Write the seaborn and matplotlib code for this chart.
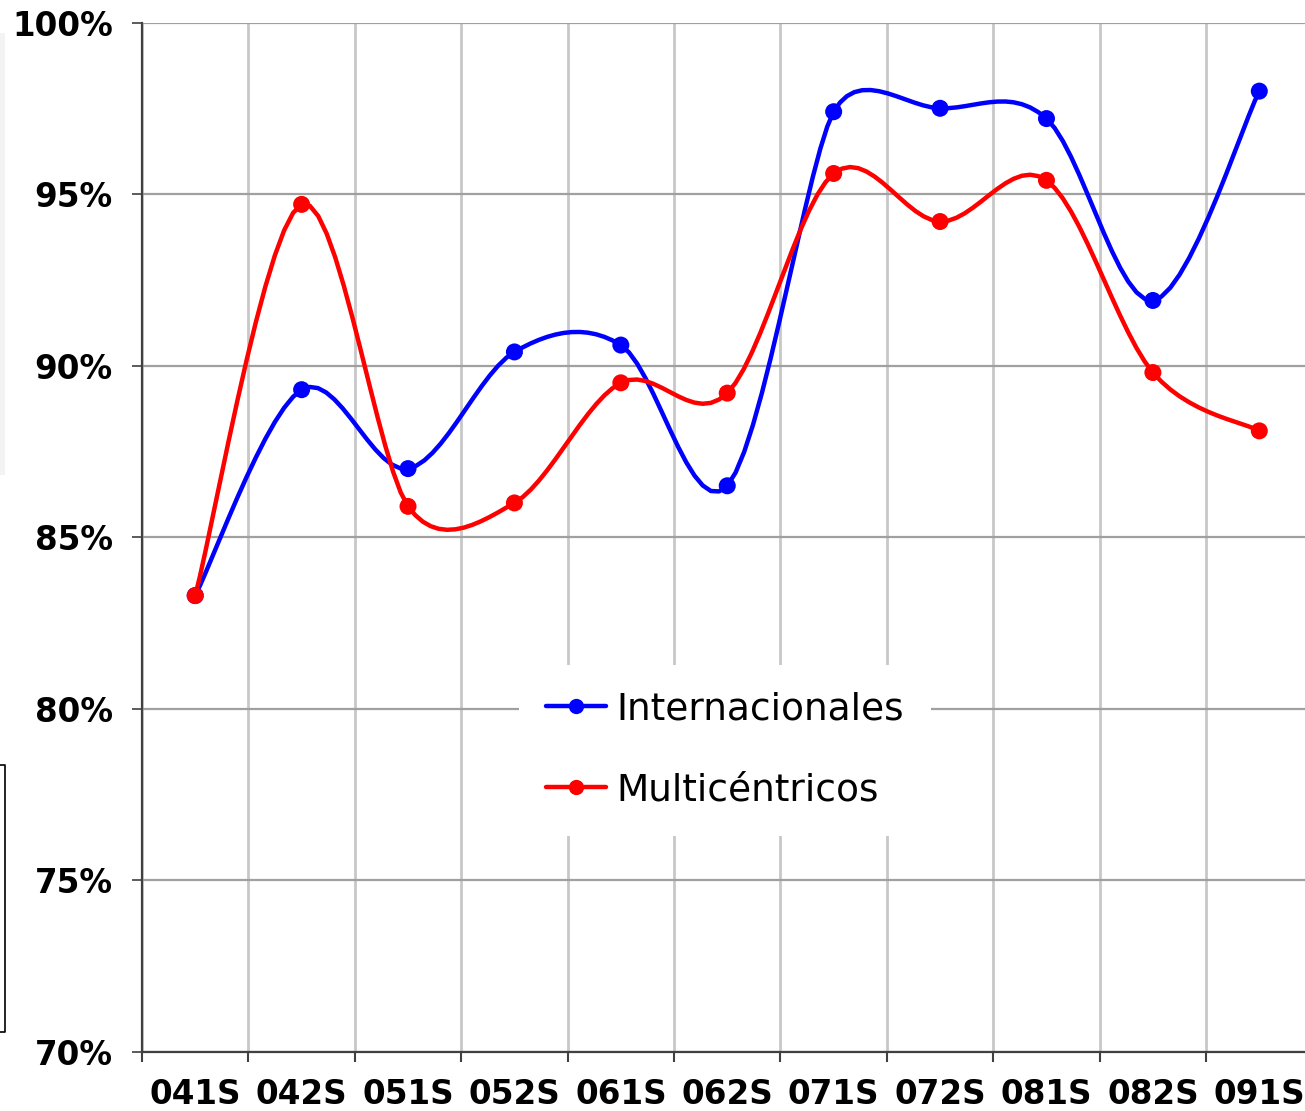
import numpy as np
import pandas as pd
import matplotlib
matplotlib.use("Agg")
import matplotlib.pyplot as plt
from matplotlib.lines import Line2D
from matplotlib.patches import Rectangle
import seaborn as sns

# ---- data -------------------------------------------------------------
periods = ["041S", "042S", "051S", "052S", "061S", "062S",
           "071S", "072S", "081S", "082S", "091S"]
internacionales = [83.3, 89.3, 87.0, 90.4, 90.6, 86.5, 97.4, 97.5, 97.2, 91.9, 98.0]
multicentricos = [83.3, 94.7, 85.9, 86.0, 89.5, 89.2, 95.6, 94.2, 95.4, 89.8, 88.1]
y_ticks = [70, 75, 80, 85, 90, 95, 100]
series_names = ["Internacionales", "Multicéntricos"]
series_colors = ["#0000ff", "#ff0000"]

# ---- figure -----------------------------------------------------------
sns.set_theme(style="white")
plt.rcParams["font.family"] = ["DejaVu Sans"]
plt.rcParams["text.color"] = "black"

W, H = 1305, 1111
fig = plt.figure(figsize=(W / 100, H / 100), dpi=100)
fig.patch.set_facecolor("white")

left_px, right_px, top_px, bottom_px = 142, 1312.5, 22.5, 1052
ax = fig.add_axes([left_px / W, (H - bottom_px) / H,
                   (right_px - left_px) / W, (bottom_px - top_px) / H])
ax.set_facecolor("white")

n = len(periods)
xs = np.arange(n)
ax.set_xlim(-0.5, n - 0.5)
ax.set_ylim(70, 100)


def smooth_curve(x, y):
    """Bezier smoothing of a polyline, computed in display space."""
    pts = ax.transData.transform(np.column_stack([x, y]))
    m = len(pts)
    c_in = np.zeros_like(pts)
    c_out = np.zeros_like(pts)
    for i in range(m):
        p0 = pts[max(i - 1, 0)]
        p1 = pts[i]
        p2 = pts[min(i + 1, m - 1)]
        f = 1 / 6
        if 0 < i < m - 1:
            d01 = np.linalg.norm(p1 - p0)
            d12 = np.linalg.norm(p2 - p1)
            d02 = np.linalg.norm(p2 - p0)
            if d02 * f > d01 / 2 or d02 * f > d12 / 2:
                f = min(d01, d12) / 2 / d02
        arm = (p2 - p0) * f
        c_in[i] = p1 - arm
        c_out[i] = p1 + arm
    t = np.linspace(0, 1, 14)[:, None]
    segs = []
    for i in range(m - 1):
        a, b, c, d = pts[i], c_out[i], c_in[i + 1], pts[i + 1]
        seg = ((1 - t) ** 3) * a + 3 * ((1 - t) ** 2) * t * b \
            + 3 * (1 - t) * t ** 2 * c + t ** 3 * d
        segs.append(seg if i == 0 else seg[1:])
    curve = ax.transData.inverted().transform(np.vstack(segs))
    return curve[:, 0], curve[:, 1]


for name, vals, col in zip(series_names, [internacionales, multicentricos], series_colors):
    cx, cy = smooth_curve(xs, np.array(vals, dtype=float))
    sns.lineplot(x=cx, y=cy, sort=False, estimator=None, color=col,
                 linewidth=3.2, ax=ax, legend=False, zorder=3)
    sns.scatterplot(x=xs, y=vals, color=col, s=150, edgecolor="none",
                    ax=ax, legend=False, zorder=4)

# ---- axes styling -----------------------------------------------------
ax.set_yticks(y_ticks)
ax.set_yticklabels([f"{v}%" for v in y_ticks], fontsize=23.5, fontweight="bold",
                   color="black")
ax.set_xticks(xs)
ax.set_xticklabels(periods, fontsize=23.5, fontweight="bold", color="black")
ax.set_xticks(np.arange(n + 1) - 0.5, minor=True)

ax.tick_params(axis="y", which="major", direction="out", length=7.5, width=1.2,
               color="#404040", pad=13.5, left=True)
ax.tick_params(axis="x", which="major", length=0, pad=18.5, bottom=True)
ax.tick_params(axis="x", which="minor", direction="out", length=7.5, width=1.5,
               color="#404040", bottom=True)

ax.grid(False)
ax.yaxis.grid(True, which="major", color="#a0a0a0", linewidth=1.6, zorder=0)
ax.xaxis.grid(True, which="minor", color="#c8c8c8", linewidth=2.0, zorder=0)
ax.set_axisbelow(True)

for side in ["top", "right"]:
    ax.spines[side].set_visible(False)
for side in ["left", "bottom"]:
    ax.spines[side].set_color("#404040")
    ax.spines[side].set_linewidth(1.6)
ax.set_xlabel("")
ax.set_ylabel("")

# ---- legend -----------------------------------------------------------
handles = [Line2D([0], [0], color=c, linewidth=3.2, marker="o", markersize=11,
                  markeredgewidth=0) for c in series_colors]
leg = ax.legend(handles, series_names, loc="center",
                bbox_to_anchor=(725 / W, 1 - 750 / H),
                bbox_transform=fig.transFigure, fontsize=27, frameon=True,
                facecolor="white", edgecolor="none", framealpha=1,
                handlelength=1.6, handletextpad=0.3, labelspacing=1.2,
                borderpad=0.72, fancybox=False, labelcolor="black")
leg.set_zorder(5)

# ---- margin decorations -----------------------------------------------
fig.patches.append(Rectangle((0, 1 - 475 / H), 5 / W, (475 - 33) / H,
                             transform=fig.transFigure, facecolor="#f3f3f3",
                             edgecolor="none"))
fig.lines.append(Line2D([0, 5 / W, 5 / W, 0],
                        [1 - 765 / H, 1 - 765 / H, 1 - 1032 / H, 1 - 1032 / H],
                        transform=fig.transFigure, color="black", linewidth=1.2))

fig.savefig("out.png", dpi=100, facecolor="white")
